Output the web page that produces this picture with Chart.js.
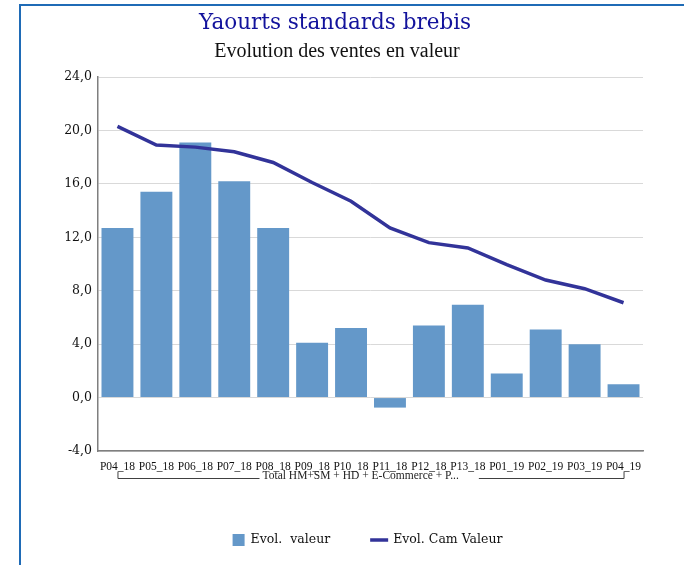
<!DOCTYPE html>
<html>
<head>
<meta charset="utf-8">
<script src="https://cdn.jsdelivr.net/npm/chart.js@4"></script>
<style>
  body { margin: 0; background: #fff; }
  #cadre {
    position: absolute; left: 19px; top: 4px;
    width: 665px; height: 561px;
    border-left: 2px solid #1f6bb6; border-top: 2px solid #1f6bb6;
  }
  #cadre canvas { display: block; }
</style>
</head>
<body>
<div id="cadre"><canvas id="graph" width="663" height="559"></canvas></div>
<script>
//-------------------Data-------------------
const periodes = ['P04_18','P05_18','P06_18','P07_18','P08_18','P09_18','P10_18','P11_18','P12_18','P13_18','P01_19','P02_19','P03_19','P04_19'];
const evolValeur = [12.7, 15.4, 19.1, 16.2, 12.7, 4.1, 5.2, -0.75, 5.4, 6.95, 1.8, 5.1, 4.0, 1.0];
const evolCamValeur = [20.3, 18.9, 18.75, 18.4, 17.6, 16.1, 14.7, 12.7, 11.6, 11.2, 9.95, 8.8, 8.15, 7.1];
const groupe = 'Total HM+SM + HD + E-Commerce + P...';
const titre = 'Yaourts standards brebis';
const sousTitre = 'Evolution des ventes en valeur';

const serif = "'Liberation Serif', serif";
const serifLarge = "'DejaVu Serif', serif";

//-------------------Plugins-------------------
// titles, bracket under the x labels, and legend
const decor = {
  id: 'decor',
  afterDraw(chart) {
    const ctx = chart.ctx;
    const area = chart.chartArea;
    const x = chart.scales.x;
    ctx.save();

    // titles
    ctx.textAlign = 'center';
    ctx.textBaseline = 'middle';
    ctx.fillStyle = '#12129c';
    ctx.font = '21.5px ' + serifLarge;
    ctx.fillText(titre, 314, 17);
    ctx.fillStyle = '#111';
    ctx.font = '20px ' + serif;
    ctx.fillText(sousTitre, 316, 46);

    // bracket for the category group
    const x1 = x.getPixelForValue(0);
    const x2 = x.getPixelForValue(periodes.length - 1);
    const yb = area.bottom + 27;
    const mid = (x1 + x2) / 2;
    ctx.font = '11.5px ' + serif;
    const tw = ctx.measureText(groupe).width;
    const tx = mid - 108;
    ctx.strokeStyle = '#404040';
    ctx.lineWidth = 1;
    ctx.beginPath();
    ctx.moveTo(x1 + 0.5, yb - 6);
    ctx.lineTo(x1 + 0.5, yb + 0.5);
    ctx.lineTo(tx - 3, yb + 0.5);
    ctx.moveTo(tx + tw + 20, yb + 0.5);
    ctx.lineTo(x2 + 0.5, yb + 0.5);
    ctx.lineTo(x2 + 0.5, yb - 6);
    ctx.stroke();
    ctx.fillStyle = '#222';
    ctx.textAlign = 'left';
    ctx.fillText(groupe, tx, yb - 2);

    // legend
    const ds = chart.data.datasets;
    ctx.font = '12.5px ' + serifLarge;
    const w1 = ctx.measureText(ds[0].label).width;
    const w2 = ctx.measureText(ds[1].label).width;
    const total = 12 + 6 + w1 + 40 + 18 + 5 + w2;
    let lx = (area.left + area.right) / 2 - total / 2 - 3;
    const ly = 534;
    ctx.fillStyle = ds[0].backgroundColor;
    ctx.fillRect(lx, ly - 6, 12, 12);
    lx += 18;
    ctx.fillStyle = '#111';
    ctx.fillText(ds[0].label, lx, ly);
    lx += w1 + 40;
    ctx.strokeStyle = ds[1].borderColor;
    ctx.lineWidth = 3.5;
    ctx.beginPath();
    ctx.moveTo(lx, ly);
    ctx.lineTo(lx + 18, ly);
    ctx.stroke();
    lx += 23;
    ctx.fillText(ds[1].label, lx, ly);

    ctx.restore();
  }
};

//-------------------Chart-------------------
const ctx = document.getElementById('graph').getContext('2d');
const chart = new Chart(ctx, {
  type: 'bar',
  data: {
    labels: periodes,
    datasets: [
      {
        label: 'Evol.  valeur',
        data: evolValeur,
        backgroundColor: '#6498c9',
        categoryPercentage: 1,
        barPercentage: 0.82,
        order: 2
      },
      {
        type: 'line',
        label: 'Evol. Cam Valeur',
        data: evolCamValeur,
        borderColor: '#323399',
        borderWidth: 3.5,
        pointRadius: 0,
        tension: 0,
        order: 1
      }
    ]
  },
  options: {
    responsive: false,
    animation: false,
    layout: { padding: { left: 27, right: 41, top: 71, bottom: 0 } },
    plugins: {
      legend: { display: false },
      title: { display: false },
      tooltip: { enabled: false }
    },
    scales: {
      x: {
        afterFit: (s) => { s.height = 114; },
        grid: { display: false },
        border: { color: '#7f7f7f', width: 1.5 },
        ticks: {
          color: '#111',
          font: { family: serif, size: 11.5 },
          padding: 1,
          maxRotation: 0,
          autoSkip: false
        }
      },
      y: {
        min: -4,
        max: 24,
        afterFit: (s) => { s.width = 50; },
        grid: { color: '#d9d9d9', drawTicks: false },
        border: { color: '#7f7f7f', width: 1.5 },
        ticks: {
          stepSize: 4,
          color: '#111',
          font: { family: serifLarge, size: 12.5 },
          padding: 6,
          callback: (v) => v.toFixed(1).replace('.', ',')
        }
      }
    }
  },
  plugins: [decor]
});
</script>
</body>
</html>
